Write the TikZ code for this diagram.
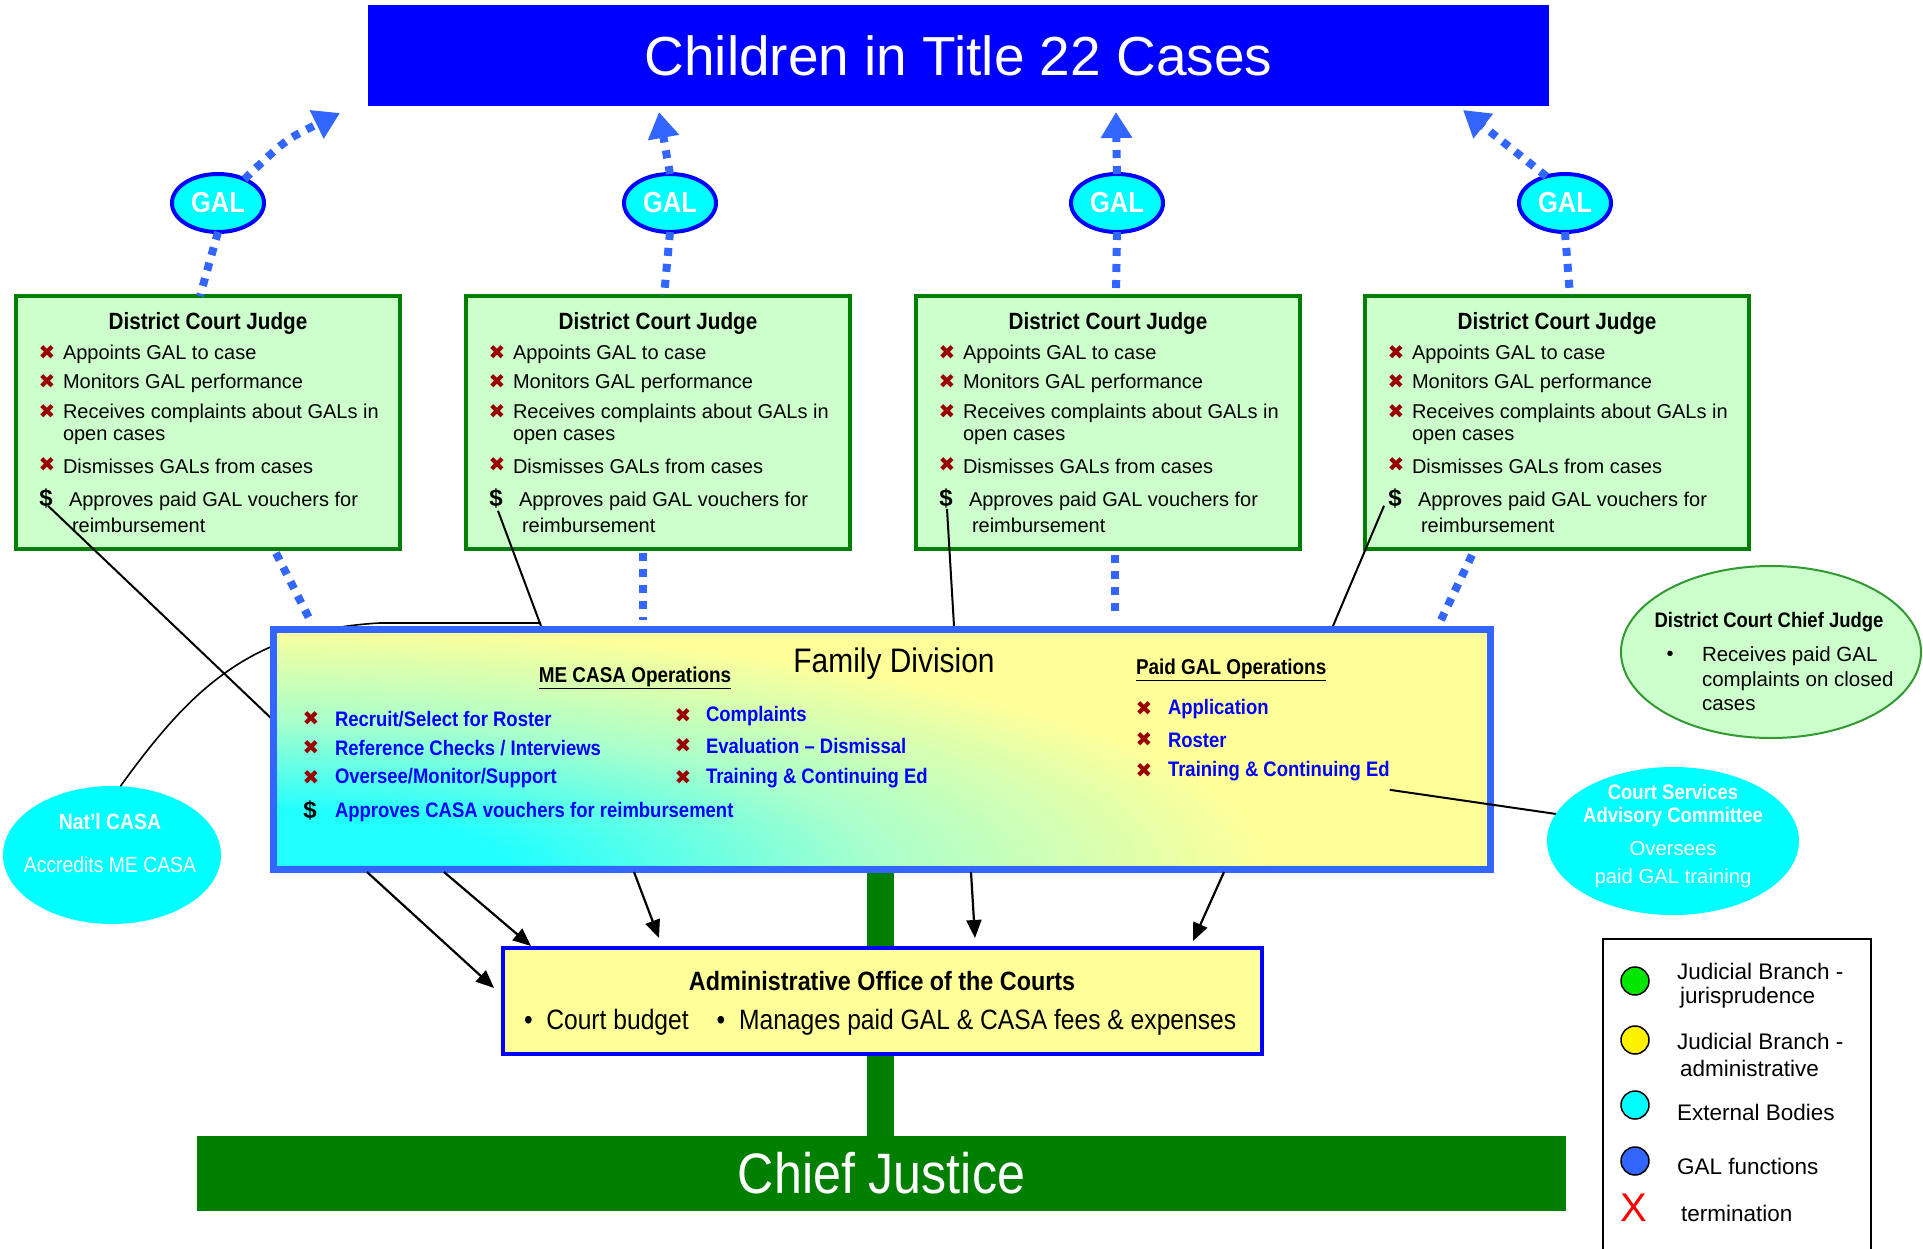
\documentclass[tikz,border=0pt]{standalone}
\usepackage{fontspec}
\setmainfont{Liberation Sans}
\newfontfamily\cond[FakeStretch=0.88]{Liberation Sans}
\newfontfamily\symf{DejaVu Sans}
\usetikzlibrary{arrows.meta,shapes.geometric}
\definecolor{titleblue}{HTML}{0000FF}
\definecolor{galblue}{HTML}{3366FF}
\definecolor{djgreen}{HTML}{007F00}
\definecolor{djfill}{HTML}{CCFFCC}
\definecolor{xred}{HTML}{990000}
\definecolor{cyanc}{HTML}{00FFFF}
\definecolor{admfill}{HTML}{FFFF99}
\definecolor{cjgreen}{HTML}{007F00}
\definecolor{fdcyan}{HTML}{22FFFF}
\definecolor{fdmint}{HTML}{A8FFCC}
\definecolor{fdyellow}{HTML}{FFFF99}
\definecolor{lggreen}{HTML}{00E600}
\definecolor{itemblue}{HTML}{0000FF}
\pgfdeclareradialshading{fdshade}{\pgfpoint{0bp}{0bp}}{color(0bp)=(fdcyan); color(6bp)=(fdcyan); color(15bp)=(fdmint); color(25bp)=(fdyellow); color(50bp)=(fdyellow)}
\newcommand{\fsz}[1]{\fontsize{#1}{#1}\selectfont}
\begin{document}
\begin{tikzpicture}[x=1pt,y=-1pt,
  every node/.style={inner sep=0pt,outer sep=0pt},
  djbox/.style={draw=djgreen,fill=djfill,line width=4pt,minimum width=384pt,minimum height=253pt,anchor=north west},
  djtitle/.style={font=\cond\bfseries\fsz{23.5}},
  djitem/.style={font=\fsz{20},anchor=west},
  xmark/.style={font=\symf\fsz{20},text=xred},
  dollar/.style={font=\bfseries\fsz{24}},
  galnode/.style={ellipse,draw=titleblue,fill=cyanc,line width=4pt,minimum width=92pt,minimum height=58pt,text=white,font=\cond\bfseries\fsz{29}},
  gald/.style={draw=galblue,line width=8pt,dash pattern=on 8pt off 8pt},
  galarrow/.style={gald,-{Triangle[width=30pt,length=26pt]}},
  conn/.style={draw=black,line width=2pt},
  blkarrow/.style={draw=black,line width=2.2pt,-{Triangle[width=15pt,length=18pt]}},
  fditem/.style={font=\cond\bfseries\fsz{21},text=itemblue,anchor=west},
  fdhead/.style={font=\cond\bfseries\fsz{21.5},anchor=center},
  lgtext/.style={font=\fsz{22.5},anchor=west},
  lgdot/.style={circle,draw=black,line width=1.5pt,minimum size=28pt}
]
\useasboundingbox (0,0) rectangle (1923,1249);

% title
\node[fill=titleblue,minimum width=1181pt,minimum height=101pt,text=white,font=\fsz{55}] (title) at (958.5,55.5) {Children in Title 22 Cases};

% district court judge boxes
\foreach \i/\L in {1/16,2/466,3/916,4/1365}{
  \node[djbox] (dj\i) at (\L,296) {};
  \node[djtitle] (dj\i-t) at (\L+192,323) {District Court Judge};
  \node[xmark] (dj\i-x1) at (\L+31,353) {✖};
  \node[djitem] (dj\i-a) at (\L+47,354) {Appoints GAL to case};
  \node[xmark] (dj\i-x2) at (\L+31,382) {✖};
  \node[djitem] (dj\i-b) at (\L+47,383) {Monitors GAL performance};
  \node[xmark] (dj\i-x3) at (\L+31,412) {✖};
  \node[djitem] (dj\i-c) at (\L+47,413) {Receives complaints about GALs in};
  \node[djitem] (dj\i-c2) at (\L+47,437) {open cases};
  \node[xmark] (dj\i-x4) at (\L+31,465) {✖};
  \node[djitem] (dj\i-d) at (\L+47,466) {Dismisses GALs from cases};
  \node[dollar] (dj\i-s) at (\L+30,498) {\$};
  \node[djitem] (dj\i-e) at (\L+53,501) {Approves paid GAL vouchers for};
  \node[djitem] (dj\i-e2) at (\L+56,525) {reimbursement};
}

% GAL ellipses
\foreach \i/\G in {1/218,2/670,3/1117,4/1565}{
  \node[galnode] (gal\i) at (\G,203) {GAL};
}
\coordinate (t1) at (340,113);
\coordinate (t2) at (659,112);
\coordinate (t3) at (1116,112);
\coordinate (t4) at (1463,110);
\draw[galarrow] (gal1.42) .. controls (285,140) .. (t1);
\draw[galarrow] (gal2.north) -- (t2);
\draw[galarrow] (gal3.north) -- (t3);
\draw[galarrow] (gal4.125) -- (t4);
\draw[gald] (gal1.south) -- ([xshift=-8pt]dj1.north);
\draw[gald] (gal2.south) -- ([xshift=6pt]dj2.north);
\draw[gald] (gal3.south) -- ([xshift=8pt]dj3.north);
\draw[gald] (gal4.south) -- ([xshift=13pt]dj4.north);

% dotted from boxes down to family division
\coordinate (f1) at (310,620);
\coordinate (f2) at (643,620);
\coordinate (f3) at (1115,616);
\coordinate (f4) at (1441,620);
\draw[gald] ([xshift=68pt,yshift=-4pt]dj1.south) -- (f1);
\draw[gald] ([xshift=-15pt,yshift=-4pt]dj2.south) -- (f2);
\draw[gald] ([xshift=7pt,yshift=-6pt]dj3.south) -- (f3);
\draw[gald] ([xshift=-85pt,yshift=-6pt]dj4.south) -- (f4);

% green bar
\coordinate (barTop) at (880,872);
\coordinate (barBot) at (880,1136);
\draw[cjgreen,line width=27pt] (barTop) -- (barBot);

% Nat'l CASA
\node[ellipse,fill=cyanc,minimum width=218pt,minimum height=138pt] (nc) at (112,855) {};
\node[font=\cond\bfseries\fsz{22},text=white] (nc-a) at (110,822) {Nat’l CASA};
\node[font=\cond\fsz{22},text=white] (nc-b) at (110,865) {Accredits ME CASA};
\coordinate (ncEnd) at (541,623);
\draw[conn,line width=1.6pt] (nc.83) .. controls (190,690) and (250,630) .. (380,623) -- (ncEnd);

% lines from $ to family division
\coordinate (d1) at (273,720);
\coordinate (d2) at (541,626);
\coordinate (d3) at (954,626);
\coordinate (d4) at (1333,626);
\draw[conn] ([xshift=2pt,yshift=2pt]dj1-s.south) -- (d1);
\draw[conn] ([xshift=2pt,yshift=-3pt]dj2-s.south) -- (d2);
\draw[conn] ([xshift=1pt,yshift=-1pt]dj3-s.south) -- (d3);
\draw[conn] ([xshift=-11pt,yshift=2pt]dj4-s.south) -- (d4);

% family division shading
\begin{scope}
  \clip (273,629) rectangle (1490,869);
  \fill[fdyellow] (273,629) rectangle (1490,869);
  \shade[shading=fdshade] (273,869) ellipse [x radius=1000pt,y radius=245pt];
\end{scope}
\node[draw=galblue,line width=7pt,minimum width=1217pt,minimum height=240pt] (fd) at (881.5,749) {};
\node[font=\cond\fsz{34}] (fd-t) at (894,664) {Family Division};
\node[fdhead] (fd-h1) at (635,678) {\underline{ME CASA Operations}};
\node[fdhead,anchor=west] (fd-h2) at (1136,670) {\underline{Paid GAL Operations}};
\node[xmark] (fd-x1) at (311,719) {✖};
\node[fditem] (fd-a1) at (335,719) {Recruit/Select for Roster};
\node[xmark] (fd-x2) at (311,748) {✖};
\node[fditem] (fd-a2) at (335,748) {Reference Checks / Interviews};
\node[xmark] (fd-x3) at (311,778) {✖};
\node[fditem] (fd-a3) at (335,778) {Oversee/Monitor/Support};
\node[dollar] (fd-s) at (310,810) {\$};
\node[fditem] (fd-a4) at (335,812) {Approves CASA vouchers for reimbursement};
\node[xmark] (fd-x5) at (683,716) {✖};
\node[fditem] (fd-b1) at (706,716) {Complaints};
\node[xmark] (fd-x6) at (683,746) {✖};
\node[fditem] (fd-b2) at (706,746) {Evaluation – Dismissal};
\node[xmark] (fd-x7) at (683,778) {✖};
\node[fditem] (fd-b3) at (706,778) {Training \& Continuing Ed};
\node[xmark] (fd-x8) at (1144,709) {✖};
\node[fditem] (fd-c1) at (1168,709) {Application};
\node[xmark] (fd-x9) at (1144,740) {✖};
\node[fditem] (fd-c2) at (1168,740) {Roster};
\node[xmark] (fd-x10) at (1144,771) {✖};
\node[fditem] (fd-c3) at (1168,771) {Training \& Continuing Ed};

% Court Services Advisory Committee
\node[ellipse,fill=cyanc,minimum width=252pt,minimum height=148pt] (cs) at (1673,841) {};
\node[font=\cond\bfseries\fsz{21},text=white] (cs-a) at (1673,792) {Court Services};
\node[font=\cond\bfseries\fsz{21},text=white] (cs-b) at (1673,817) {Advisory Committee};
\node[font=\fsz{20.3},text=white] (cs-c) at (1673,849) {Oversees};
\node[font=\fsz{20.3},text=white] (cs-d) at (1673,878) {paid GAL training};
\draw[conn] ([yshift=-9pt]fd-c3.south east) -- (cs.167);

% District Court Chief Judge
\node[ellipse,draw=djgreen!80,fill=djfill,line width=2pt,minimum width=300pt,minimum height=172pt] (cj) at (1771,652) {};
\node[font=\cond\bfseries\fsz{21},] (cj-t) at (1769,622) {District Court Chief Judge};
\node[font=\fsz{20}] (cj-b) at (1670,656) {•};
\node[font=\fsz{20.5},anchor=west] (cj-1) at (1702,656) {Receives paid GAL};
\node[font=\fsz{20.5},anchor=west] (cj-2) at (1702,681) {complaints on closed};
\node[font=\fsz{20.5},anchor=west] (cj-3) at (1702,705) {cases};

% arrows to admin office
\coordinate (a1s) at (367,872);
\coordinate (a1e) at (494,988);
\coordinate (a2s) at (444,872);
\coordinate (a2e) at (531,946);
\coordinate (a3s) at (634,872);
\coordinate (a3e) at (659,938);
\coordinate (a4s) at (971,872);
\coordinate (a4e) at (975,938);
\coordinate (a5s) at (1224,872);
\coordinate (a5e) at (1193,941);
\draw[blkarrow] (a1s) -- (a1e);
\draw[blkarrow] (a2s) -- (a2e);
\draw[blkarrow] (a3s) -- (a3e);
\draw[blkarrow] (a4s) -- (a4e);
\draw[blkarrow] (a5s) -- (a5e);

% Administrative Office
\node[draw=titleblue,fill=admfill,line width=4pt,minimum width=759pt,minimum height=106pt] (ao) at (882.5,1001) {};
\node[font=\cond\bfseries\fsz{26.5}] (ao-t) at (882,981) {Administrative Office of the Courts};
\node[font=\cond\fsz{28},anchor=west] (ao-b) at (524,1022) {•\ \ Court budget\quad •\ \ Manages paid GAL \& CASA fees \& expenses};

% Chief Justice
\node[fill=cjgreen,minimum width=1369pt,minimum height=75pt,text=white,font=\cond\fsz{57}] (cjus) at (881.5,1173.5) {Chief Justice};

% legend
\node[draw=black,line width=2.5pt,minimum width=268pt,minimum height=330pt,anchor=north west] (lg) at (1603,939) {};
\node[lgdot,fill=lggreen] (lg1) at (1635,981) {};
\node[lgtext] (lg1a) at (1677,971) {Judicial Branch -};
\node[lgtext] (lg1b) at (1680,998) {jurisprudence};
\node[lgdot,fill=yellow] (lg2) at (1635,1040) {};
\node[lgtext] (lg2a) at (1677,1041) {Judicial Branch -};
\node[lgtext] (lg2b) at (1680,1068) {administrative};
\node[lgdot,fill=cyanc] (lg3) at (1635,1105) {};
\node[lgtext] (lg3a) at (1677,1112) {External Bodies};
\node[lgdot,fill=galblue] (lg4) at (1635,1161) {};
\node[lgtext] (lg4a) at (1677,1166) {GAL functions};
\node[font=\fsz{40},text=red] (lg5) at (1634,1208) {X};
\node[lgtext] (lg5a) at (1681,1213) {termination};
\end{tikzpicture}
\end{document}
